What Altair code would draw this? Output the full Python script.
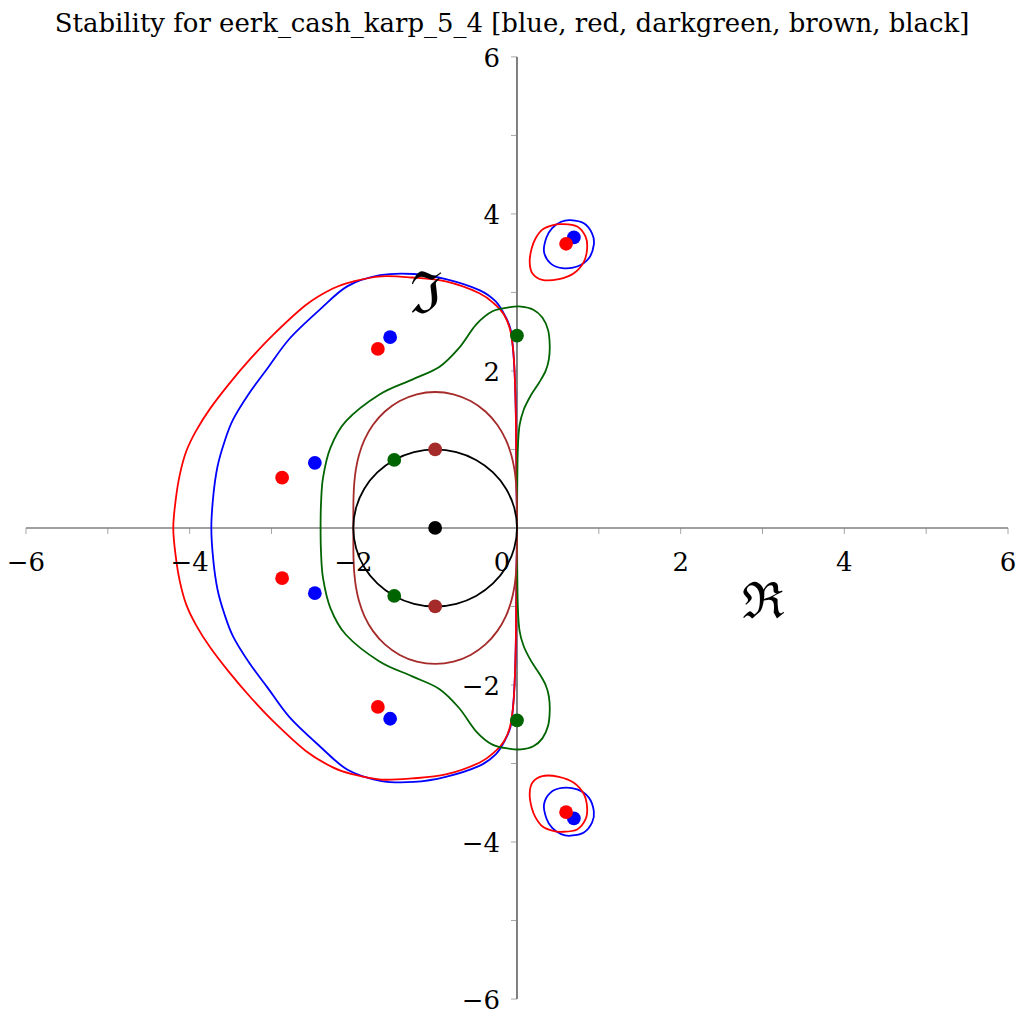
import altair as alt
import pandas as pd

TITLE = "Stability for eerk_cash_karp_5_4 [blue, red, darkgreen, brown, black]"
SERIF = "DejaVu Serif"

COLORS = {"blue": "#0000ff", "red": "#ff0000", "darkgreen": "#006400",
          "brown": "#a52a2a", "black": "#000000"}

# ---- boundary curves |R(z)| = 1 (x = Re, y = Im) ----
BLUE_MAIN = [
    (0.0, 0.0), (-0.005, 0.5), (-0.01, 1.0), (-0.015, 1.5), (-0.03, 2.0), (-0.05, 2.3),
    (-0.077, 2.525), (-0.14, 2.69), (-0.26, 2.885), (-0.46, 3.03), (-0.87, 3.17),
    (-1.26, 3.235), (-1.67, 3.22), (-2.07, 3.08), (-2.41, 2.78), (-2.78, 2.41),
    (-3.05, 2.03), (-3.27, 1.72), (-3.47, 1.38), (-3.58, 1.08), (-3.66, 0.78),
    (-3.71, 0.42), (-3.735, 0.0),
    (-3.71, -0.42), (-3.66, -0.78), (-3.58, -1.08), (-3.47, -1.38), (-3.27, -1.72),
    (-3.05, -2.03), (-2.78, -2.41), (-2.41, -2.78), (-2.07, -3.08), (-1.67, -3.22),
    (-1.26, -3.235), (-0.87, -3.17), (-0.46, -3.03), (-0.26, -2.885), (-0.14, -2.69),
    (-0.077, -2.525), (-0.05, -2.3), (-0.03, -2.0), (-0.015, -1.5), (-0.01, -1.0),
    (-0.005, -0.5),
]
BLUE_LOOP_UP = [
    (0.33, 3.52), (0.36, 3.70), (0.43, 3.82), (0.54, 3.90), (0.655, 3.92), (0.817, 3.88),
    (0.918, 3.75), (0.939, 3.61), (0.878, 3.435), (0.735, 3.33), (0.552, 3.31), (0.41, 3.37),
]
BLUE_LOOP_DN = [
    (0.33, -3.52), (0.36, -3.70), (0.43, -3.82), (0.54, -3.90), (0.655, -3.92), (0.817, -3.88),
    (0.918, -3.75), (0.939, -3.61), (0.878, -3.435), (0.735, -3.33), (0.552, -3.31), (0.41, -3.37),
]
RED_MAIN = [
    (0.0, 0.0), (-0.005, 0.5), (-0.01, 1.0), (-0.015, 1.5), (-0.03, 2.0), (-0.05, 2.3),
    (-0.09, 2.55), (-0.16, 2.72), (-0.26, 2.84), (-0.46, 2.99), (-0.87, 3.14),
    (-1.28, 3.19), (-1.66, 3.205), (-2.0, 3.14), (-2.25, 3.05), (-2.58, 2.84),
    (-2.98, 2.46), (-3.27, 2.14), (-3.53, 1.82), (-3.75, 1.52), (-3.92, 1.24),
    (-4.04, 0.98), (-4.12, 0.68), (-4.17, 0.36), (-4.20, 0.0),
    (-4.17, -0.36), (-4.12, -0.68), (-4.04, -0.98), (-3.92, -1.24), (-3.75, -1.52),
    (-3.53, -1.82), (-3.27, -2.14), (-2.98, -2.46), (-2.58, -2.84), (-2.25, -3.05),
    (-2.0, -3.14), (-1.66, -3.205), (-1.28, -3.19), (-0.87, -3.14), (-0.46, -2.99),
    (-0.26, -2.84), (-0.16, -2.72), (-0.09, -2.55), (-0.05, -2.3), (-0.03, -2.0),
    (-0.015, -1.5), (-0.01, -1.0), (-0.005, -0.5),
]
RED_LOOP_UP = [
    (0.155, 3.39), (0.179, 3.56), (0.228, 3.69), (0.309, 3.80), (0.43, 3.855), (0.552, 3.87),
    (0.735, 3.84), (0.838, 3.71), (0.857, 3.56), (0.817, 3.39), (0.695, 3.245), (0.512, 3.17),
    (0.309, 3.16), (0.187, 3.245),
]
RED_LOOP_DN = [
    (0.155, -3.39), (0.179, -3.56), (0.228, -3.69), (0.309, -3.80), (0.43, -3.855), (0.552, -3.87),
    (0.735, -3.84), (0.838, -3.71), (0.857, -3.56), (0.817, -3.39), (0.695, -3.245), (0.512, -3.17),
    (0.309, -3.16), (0.187, -3.245),
]
GREEN_MAIN = [
    (0.0, 0.0), (0.003, 0.5), (0.01, 1.0), (0.03, 1.3), (0.08, 1.5), (0.17, 1.69), (0.27, 1.85),
    (0.35, 2.0), (0.39, 2.15), (0.40, 2.33), (0.38, 2.52), (0.31, 2.68), (0.20, 2.78),
    (0.05, 2.82), (-0.10, 2.81), (-0.30, 2.76), (-0.50, 2.59), (-0.71, 2.29), (-0.95, 2.05),
    (-1.28, 1.89), (-1.68, 1.70), (-2.09, 1.36), (-2.28, 1.02), (-2.37, 0.64), (-2.395, 0.3),
    (-2.40, 0.0),
    (-2.395, -0.3), (-2.37, -0.64), (-2.28, -1.02), (-2.09, -1.36), (-1.68, -1.70),
    (-1.28, -1.89), (-0.95, -2.05), (-0.71, -2.29), (-0.50, -2.59), (-0.30, -2.76),
    (-0.10, -2.81), (0.05, -2.82), (0.20, -2.78), (0.31, -2.68), (0.38, -2.52), (0.40, -2.33),
    (0.39, -2.15), (0.35, -2.0), (0.27, -1.85), (0.17, -1.69), (0.08, -1.5), (0.03, -1.3),
    (0.01, -1.0), (0.003, -0.5),
]
BROWN_MAIN = [
    (0.0, 0.0), (0.0, 0.1317), (-0.0006, 0.2678), (-0.0033, 0.4128), (-0.0115, 0.5707),
    (-0.0308, 0.7437), (-0.0694, 0.9306), (-0.1369, 1.1248), (-0.2412, 1.3142),
    (-0.3856, 1.4834), (-0.5667, 1.6171), (-0.7758, 1.7026), (-1.0, 1.7321),
    (-1.2242, 1.7026), (-1.4333, 1.6171), (-1.6144, 1.4834), (-1.7588, 1.3142),
    (-1.8631, 1.1248), (-1.9306, 0.9306), (-1.9692, 0.7437), (-1.9885, 0.5707),
    (-1.9967, 0.4128), (-1.9994, 0.2678), (-2.0, 0.1317), (-2.0, 0.0),
    (-2.0, -0.1317), (-1.9994, -0.2678), (-1.9967, -0.4128), (-1.9885, -0.5707),
    (-1.9692, -0.7437), (-1.9306, -0.9306), (-1.8631, -1.1248), (-1.7588, -1.3142),
    (-1.6144, -1.4834), (-1.4333, -1.6171), (-1.2242, -1.7026), (-1.0, -1.7321),
    (-0.7758, -1.7026), (-0.5667, -1.6171), (-0.3856, -1.4834), (-0.2412, -1.3142),
    (-0.1369, -1.1248), (-0.0694, -0.9306), (-0.0308, -0.7437), (-0.0115, -0.5707),
    (-0.0033, -0.4128), (-0.0006, -0.2678), (0.0, -0.1317),
]
BLACK_MAIN = [
    (0.0, 0.0), (-0.034, 0.259), (-0.134, 0.5), (-0.293, 0.707), (-0.5, 0.866), (-0.741, 0.966),
    (-1.0, 1.0), (-1.259, 0.966), (-1.5, 0.866), (-1.707, 0.707), (-1.866, 0.5), (-1.966, 0.259),
    (-2.0, 0.0), (-1.966, -0.259), (-1.866, -0.5), (-1.707, -0.707), (-1.5, -0.866),
    (-1.259, -0.966), (-1.0, -1.0), (-0.741, -0.966), (-0.5, -0.866), (-0.293, -0.707),
    (-0.134, -0.5), (-0.034, -0.259),
]

# ---- dots (roots) ----
BLUE_DOTS = [(-1.55, 2.43), (-1.55, -2.43), (-2.47, 0.83), (-2.47, -0.83), (0.695, 3.70), (0.695, -3.70)]
RED_DOTS = [(-1.70, 2.28), (-1.70, -2.28), (-2.87, 0.64), (-2.87, -0.64), (0.60, 3.62), (0.60, -3.62)]
GREEN_DOTS = [(0.0, 2.45), (0.0, -2.45), (-1.5, 0.866), (-1.5, -0.866)]
BROWN_DOTS = [(-1.0, 1.0), (-1.0, -1.0)]
BLACK_DOTS = [(-1.0, 0.0)]

# ---- axes ----
TICKS = [-6, -5, -4, -3, -2, -1, 1, 2, 3, 4, 5, 6]
LABEL_VALUES = [-6, -4, -2, 2, 4, 6]
LABEL_TEXT = ["\u22126", "\u22124", "\u22122", "2", "4", "6"]
AXIS_NAMES = ["\u211c", "\u2111"]

CURVES = [
    ("blue_main", "blue", BLUE_MAIN), ("blue_up", "blue", BLUE_LOOP_UP), ("blue_dn", "blue", BLUE_LOOP_DN),
    ("red_main", "red", RED_MAIN), ("red_up", "red", RED_LOOP_UP), ("red_dn", "red", RED_LOOP_DN),
    ("green_main", "darkgreen", GREEN_MAIN), ("brown_main", "brown", BROWN_MAIN),
    ("black_main", "black", BLACK_MAIN),
]
DOTS = [("blue", BLUE_DOTS), ("red", RED_DOTS), ("darkgreen", GREEN_DOTS),
        ("brown", BROWN_DOTS), ("black", BLACK_DOTS)]

rows = []
for name, col, pts in CURVES:
    for i, (x, y) in enumerate(pts):
        rows.append({"curve": name, "col": col, "i": i, "x": x, "y": y})
curves_df = pd.DataFrame(rows)

drows = []
for k, (col, pts) in enumerate(DOTS):
    for x, y in pts:
        drows.append({"col": col, "k": k, "x": x, "y": y})
dots_df = pd.DataFrame(drows)

XS = alt.Scale(domain=[-6, 6], nice=False, zero=False)
YS = alt.Scale(domain=[-6, 6], nice=False, zero=False)
CS = alt.Scale(domain=list(COLORS.keys()), range=list(COLORS.values()))


def xy(xf="x:Q", yf="y:Q"):
    return dict(x=alt.X(xf, scale=XS, axis=None), y=alt.Y(yf, scale=YS, axis=None))


layers = []

# x axis line (grey) and y axis line (black)
xaxis_df = pd.DataFrame({"x": [-6.0], "x2": [6.0], "y": [0.0]})
layers.append(alt.Chart(xaxis_df).mark_rule(color="#808080", strokeWidth=1.5).encode(
    x=alt.X("x:Q", scale=XS, axis=None), x2="x2:Q", y=alt.Y("y:Q", scale=YS, axis=None)))
yaxis_df = pd.DataFrame({"x": [0.0], "y": [-6.0], "y2": [6.0]})
layers.append(alt.Chart(yaxis_df).mark_rule(color="#000000", strokeWidth=1).encode(
    x=alt.X("x:Q", scale=XS, axis=None), y=alt.Y("y:Q", scale=YS, axis=None), y2="y2:Q"))

# tick marks
xt_df = pd.DataFrame({"x": TICKS, "y": [0.0] * len(TICKS)})
layers.append(alt.Chart(xt_df).mark_tick(orient="vertical", size=6, thickness=1, yOffset=3,
                                          color="#808080").encode(**xy()))
yt_df = pd.DataFrame({"x": [0.0] * len(TICKS), "y": TICKS})
layers.append(alt.Chart(yt_df).mark_tick(orient="horizontal", size=6, thickness=1, xOffset=-3,
                                          color="#808080").encode(**xy()))

# curves
for col in COLORS:
    sub = curves_df[curves_df["col"] == col]
    layers.append(alt.Chart(sub).mark_line(interpolate="cardinal-closed", tension=0,
                                           strokeWidth=1.8).encode(
        detail="curve:N", order="i:Q",
        color=alt.Color("col:N", scale=CS, legend=None), **xy()))

# dots
for col in COLORS:
    sub = dots_df[dots_df["col"] == col]
    layers.append(alt.Chart(sub).mark_circle(size=190, opacity=1).encode(
        color=alt.Color("col:N", scale=CS, legend=None), **xy()))

# tick labels
xl_df = pd.DataFrame({"x": LABEL_VALUES, "y": [0.0] * len(LABEL_VALUES), "t": LABEL_TEXT})
layers.append(alt.Chart(xl_df).mark_text(font=SERIF, fontSize=26, align="center",
                                          baseline="alphabetic", dy=43, color="black").encode(
    text="t:N", **xy()))
yl_df = pd.DataFrame({"x": [0.0] * len(LABEL_VALUES), "y": LABEL_VALUES, "t": LABEL_TEXT})
layers.append(alt.Chart(yl_df).mark_text(font=SERIF, fontSize=26, align="right",
                                          baseline="alphabetic", dx=-17, dy=10, color="black").encode(
    text="t:N", **xy()))
zero_df = pd.DataFrame({"x": [0.0], "y": [0.0], "t": ["0"]})
layers.append(alt.Chart(zero_df).mark_text(font=SERIF, fontSize=26, align="center",
                                            baseline="alphabetic", dx=-15, dy=43, color="black").encode(
    text="t:N", **xy()))

# axis names
re_df = pd.DataFrame({"x": [3.0], "y": [-0.95], "t": [AXIS_NAMES[0]]})
layers.append(alt.Chart(re_df).mark_text(font=SERIF, fontSize=50, align="center",
                                          baseline="middle", color="black").encode(
    text="t:N", **xy()))
im_df = pd.DataFrame({"x": [-1.11], "y": [2.96], "t": [AXIS_NAMES[1]]})
layers.append(alt.Chart(im_df).mark_text(font=SERIF, fontSize=58, align="center",
                                          baseline="middle", color="black").encode(
    text="t:N", **xy()))

# title (as text placed above the plot area)
title_df = pd.DataFrame({"x": [-0.06], "y": [6.318], "t": [TITLE]})
layers.append(alt.Chart(title_df).mark_text(font=SERIF, fontSize=26, align="center",
                                             baseline="alphabetic", color="black").encode(
    text="t:N", **xy()))

chart = alt.layer(*layers).properties(
    width=984, height=944,
    autosize=alt.AutoSizeParams(type="none"),
    padding={"left": 18, "top": 48, "right": 8, "bottom": 14},
).configure(background="white", view=alt.ViewConfig(stroke=None))

chart.save("out.html", embed_options={"renderer": "svg", "actions": False})
